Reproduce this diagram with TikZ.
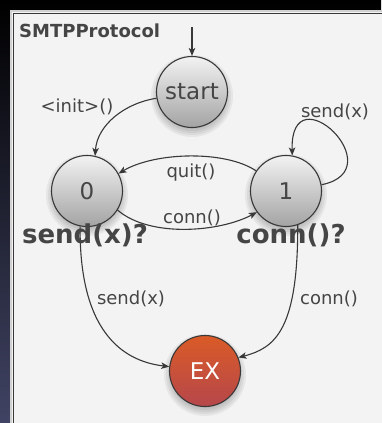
\documentclass[tikz,border=0pt]{standalone}
\usepackage{fontspec}
\setmainfont{DejaVu Sans}
\usetikzlibrary{arrows.meta}
\definecolor{ink}{HTML}{383838}
\definecolor{txt}{HTML}{454545}
\definecolor{panel}{HTML}{F3F3F3}
\definecolor{navy}{HTML}{404363}
\definecolor{exTop}{HTML}{DA5B27}
\definecolor{exBot}{HTML}{B6474B}
\begin{document}
\begin{tikzpicture}[x=1pt,y=-1pt,
  state/.style={circle, draw=ink, line width=1.1pt, minimum size=71pt, inner sep=0pt,
    top color=black!5, bottom color=black!36, text=txt, font=\fontsize{23}{23}\selectfont},
  final/.style={state, top color=exTop, bottom color=exBot, text=white},
  lbl/.style={text=txt, inner sep=0pt, anchor=base, font=\fontsize{18}{18}\selectfont},
  biglbl/.style={lbl, font=\fontsize{26}{26}\selectfont\bfseries},
  trans/.style={draw=ink, line width=1.1pt, -{Stealth[length=8pt,width=6.5pt,inset=2pt]}},
  nodeshadow/.style={fill=black, opacity=0.05},
]
\useasboundingbox (0,0) rectangle (381,423);

% window background and panel frame
\shade[top color=black, bottom color=navy] (0,0) rectangle (381,423);
\fill[panel] (10,10) rectangle (390,430);
\draw[black!18, line width=2.4pt] (11.2,430) -- (11.2,11.2) -- (390,11.2);
\draw[ink, line width=1.1pt] (13.8,430) -- (13.8,13.8) -- (390,13.8);

% state positions
\coordinate (cStart) at (192,92);
\coordinate (cZero)  at (87,191);
\coordinate (cOne)   at (286,191);
\coordinate (cEx)    at (205,371);

% soft shadows under the states
\foreach \c in {cStart,cZero,cOne,cEx}{
  \foreach \r in {33,35,37,39,41}
    \fill[nodeshadow] (\c) ++(0,4) circle (\r pt);
}

% states
\node[state] (start) at (cStart) {start};
\node[state] (n0) at (cZero) {0};
\node[state] (n1) at (cOne) {1};
\node[final] (ex) at (cEx) {EX};

% transitions
\coordinate (entry) at (192,27);
\draw[trans] (entry) -- (start.north);
\draw[trans] (start.190) .. controls (125,103) and (97,125) .. (n0.77);
\draw[trans] (n1.10) .. controls (395,170) and (290,70) .. (n1.80);
\draw[trans] (n1.146) .. controls (225,150) and (155,152) .. (n0.29);
\draw[trans] (n0.-32) .. controls (150,238) and (220,232) .. (n1.216);
\draw[trans] (n0.259) .. controls (79,340) and (130,362) .. (ex.173);
\draw[trans] (n1.-71) .. controls (298,330) and (275,348) .. (ex.22);

% labels
\node[lbl, anchor=base west, font=\fontsize{18}{18}\selectfont\bfseries] (title) at (19,37) {SMTPProtocol};
\node[lbl] (linit) at (77,112) {<init>()};
\node[lbl] (lloop) at (335,117) {send(x)};
\node[lbl] (lquit) at (191,177) {quit()};
\node[lbl] (lconn) at (192,223) {conn()};
\node[biglbl] (lzero) at (85,243) {send(x)?};
\node[biglbl] (lone) at (291,243) {conn()?};
\node[lbl] (lsend) at (131,304) {send(x)};
\node[lbl] (lconnex) at (329,304) {conn()};
\end{tikzpicture}
\end{document}
